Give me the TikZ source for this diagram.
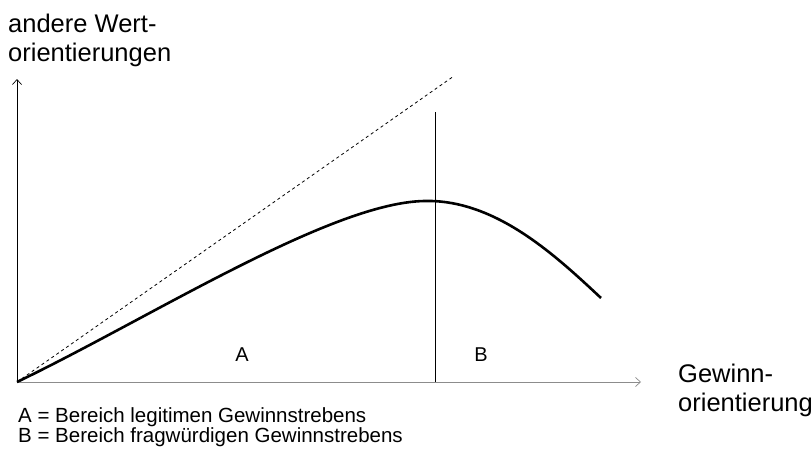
\documentclass[tikz,border=0pt]{standalone}
\usepackage{fontspec}
\setmainfont{Liberation Sans}
\usetikzlibrary{arrows.meta}
\begin{document}
\begin{tikzpicture}[x=1pt,y=-1pt,
  axis/.style={line width=0.9pt,-{Straight Barb[length=5pt,width=9pt,line width=0.7pt]}},
  lbl/.style={font=\fontsize{25.5}{29.5}\selectfont,inner sep=0pt,align=left},
  ab/.style={font=\fontsize{20}{24}\selectfont,inner sep=0pt},
  legend/.style={font=\fontsize{20.5}{24}\selectfont,inner sep=0pt,anchor=base west}]
\useasboundingbox (0,0) rectangle (812,450);
\coordinate (O) at (17,382);
\coordinate (ytop) at (17,79);
\coordinate (xend) at (641,382);
\coordinate (dend) at (454,76);
\coordinate (vtop) at (435,112);
\coordinate (vbot) at (435,382);
\coordinate (peak) at (424,201);
\coordinate (cend) at (601,298);
\draw[axis,black] (O) -- (ytop);
\draw[axis,black!45] (O) -- (xend);
\draw[line width=0.8pt,dash pattern=on 3pt off 3pt] (O) -- (dend);
\draw[line width=0.9pt] (vbot) -- (vtop);
\draw[line width=2.6pt] (O) .. controls (150,318) and (330,203) .. (peak)
   .. controls (495,199) and (555,255) .. (cend);
\node[lbl,anchor=north west] (ylab) at (8,13.5) {andere Wert-\\orientierungen};
\node[lbl,anchor=north west] (xlab) at (678,363.5) {Gewinn-\\orientierung};
\node[ab] (A) at (242,355) {A};
\node[ab] (B) at (481,355) {B};
\node[legend] (la) at (18,422) {A = Bereich legitimen Gewinnstrebens};
\node[legend] (lb) at (18,442) {B = Bereich fragwürdigen Gewinnstrebens};
\end{tikzpicture}
\end{document}
